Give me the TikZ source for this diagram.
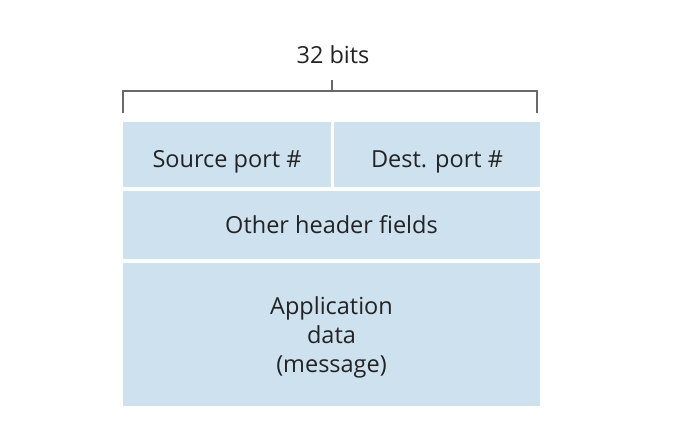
\documentclass[tikz,border=0pt]{standalone}
\usepackage{fontspec}
\setmainfont{Open Sans}
\definecolor{fieldBlue}{RGB}{206,225,239}
\definecolor{textGrey}{RGB}{35,35,35}
\definecolor{lineGrey}{RGB}{105,105,105}
\begin{document}
\begin{tikzpicture}[x=1pt, y=-1pt,
        field/.style={fill=fieldBlue, inner sep=0pt, text=textGrey, align=center,
            font=\fontsize{23.5}{29}\selectfont},
        bracket/.style={draw=lineGrey, line width=1.1pt}]

        \useasboundingbox (0,0) rectangle (684,432);

        % width label
        \node[text=textGrey, font=\fontsize{23.5}{28}\selectfont] (bits) at (333,55) {32 bits};
        \coordinate (left) at (123,113);
        \coordinate (right) at (537,113);
        \coordinate (mid) at (332,91);
        \draw[bracket] (left) |- (right |- mid) -- (right);
        \draw[bracket] (mid) -- ++(0,-11);

        % header row
        \node[field, minimum width=208pt, minimum height=65pt, text height=26pt, text depth=0pt] (src) at (227,154.5) {Source port \#};
        \node[field, minimum width=206pt, minimum height=65pt, text height=26pt, text depth=0pt] (dst) at (437,154.5) {Dest. port \#};

        % other fields
        \node[field, minimum width=417pt, minimum height=68pt] (other) at (331.5,225) {Other header fields};

        % payload
        \node[field, minimum width=417pt, minimum height=143pt, text depth=0pt] (app) at (331.5,334.5) {Application\\data\\(message)};

    \end{tikzpicture}
\end{document}
